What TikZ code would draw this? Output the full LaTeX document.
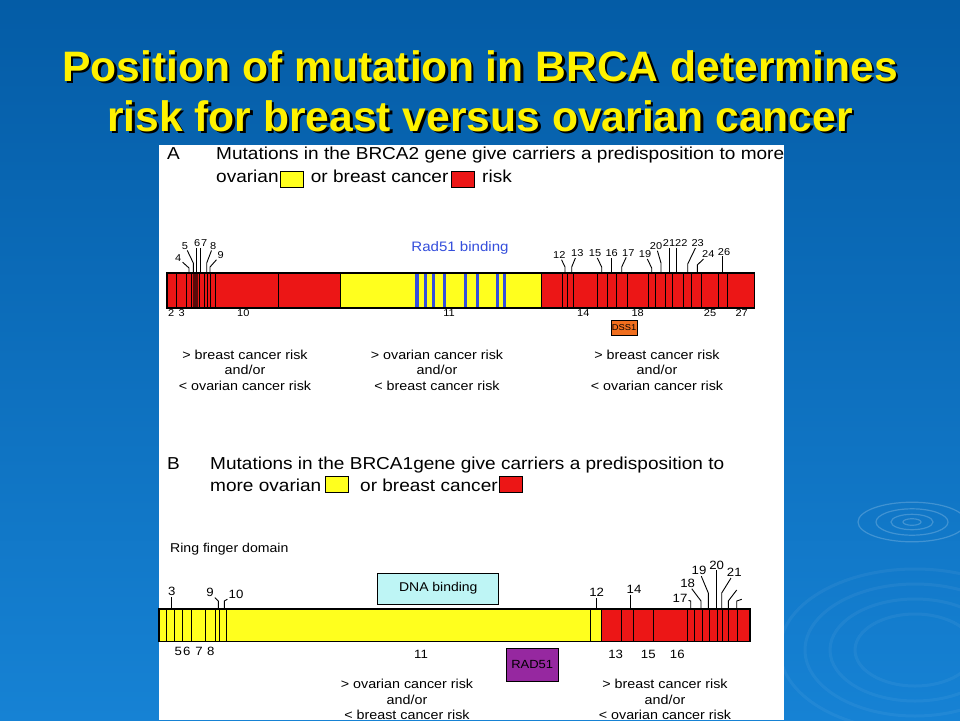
\documentclass[tikz,border=0pt]{standalone}
\usepackage{fontspec}
\setmainfont{Liberation Sans}
\newfontfamily\figfont[FakeStretch=1.1]{Liberation Sans}

\definecolor{slidetop}{RGB}{4,92,166}
\definecolor{slidebottom}{RGB}{22,130,212}
\definecolor{exred}{RGB}{236,22,22}
\definecolor{exyellow}{RGB}{255,255,30}
\definecolor{bindblue}{RGB}{52,78,220}
\definecolor{darkband}{RGB}{90,10,10}
\definecolor{dssorange}{RGB}{240,110,30}
\definecolor{dnacyan}{RGB}{190,245,245}
\definecolor{radpurple}{RGB}{150,40,160}

\tikzset{%
  titletext/.style={text=yellow, font=\bfseries\fontsize{42.6}{50}\selectfont, align=center},
  titleshadow/.style={titletext, text=black},
  head/.style={anchor=base west, font=\figfont\fontsize{17.3}{22}\selectfont, inner sep=0pt},
  keybox/.style={draw=black, line width=0.8pt, minimum width=23pt, minimum height=16pt, inner sep=0pt},
  exnum/.style={font=\figfont\fontsize{10}{11}\selectfont, inner sep=1pt},
  exnumB/.style={exnum, font=\figfont\fontsize{12}{13}\selectfont},
  risk/.style={align=center, font=\figfont\fontsize{13}{15.5}\selectfont},
  lead/.style={draw, line width=0.9pt},
  exline/.style={line width=0.9pt},
  barframe/.style={draw, line width=1.2pt},
  dombox/.style={draw, line width=0.8pt, inner sep=0pt},
}

% label with a bent leader down to the bar
\newcommand{\bentlab}[6]{%
  \node[#1] (#2) at (#4) {#3};
  \coordinate (#2f) at (#5);
  \draw[lead] (#2) -- ([yshift=#6pt]#2f) -- (#2f);
}
% label with a straight leader
\newcommand{\straightlab}[5]{%
  \node[#1] (#2) at (#4) {#3};
  \coordinate (#2f) at (#5);
  \draw[lead] (#2.south -| #2f) -- (#2f);
}

\begin{document}
\begin{tikzpicture}[x=1pt, y=-1pt]
\useasboundingbox (0,0) rectangle (960,720);

% slide background
\shade[top color=slidetop, bottom color=slidebottom] (0,0) rectangle (960,720);
\foreach \r in {6,14,24,36}
  \draw[white, opacity=.2, line width=1.2pt] (912,522) ellipse [x radius=1.5*\r, y radius=0.55*\r];
\foreach \r in {60,85,110,135}
  \draw[white, opacity=.05, line width=3pt] (915,650) ellipse [x radius=\r, y radius=0.6*\r];

% title
\node[titleshadow] (tshadow) at (482.5,93.5) {Position of mutation in BRCA determines\\risk for breast versus ovarian cancer};
\node[titletext] (title) at (480,91) {Position of mutation in BRCA determines\\risk for breast versus ovarian cancer};

% white figure panel
\fill[white] (159,145) rectangle (784,720);

% ---------- A: BRCA2 ----------
\node[head] (labA) at (167,159) {A};
\node[head] (headA) at (216,159) {Mutations in the BRCA2 gene give carriers a predisposition to more};
\node[head] (ovA) at (216,182) {ovarian};
\node[keybox, fill=exyellow] (ykeyA) at (291.5,179) {};
\node[head] (brA) at (310.7,182) {or breast cancer};
\node[keybox, fill=exred] (rkeyA) at (463,179) {};
\node[head] (riskA) at (482,182) {risk};

\fill[exred] (167,273) rectangle (340,308);
\fill[exyellow] (340,273) rectangle (541.7,308);
\fill[exred] (541.7,273) rectangle (754.3,308);
\fill[darkband] (193.3,273) rectangle (198.3,308);
\foreach \x in {416.7,425.5,433.3,444.3,465.5,477.5,497.5,504.3}
  \fill[bindblue] (\x-1.8,273.6) rectangle (\x+1.8,307.4);
\foreach \x in {176.7,186.7,191,199.3,204.3,207.7,210,215,278.3,340,541.7,
                562.7,567.3,573.3,597,607.3,616.7,627,648,655.5,665,672.5,683.5,691.7,701,718.3,727.5}
  \draw[exline] (\x,273) -- (\x,308);
\draw[barframe] (167,273) rectangle (754.3,308);

\node[text=bindblue, font=\figfont\fontsize{13.7}{16}\selectfont] (rad51A) at (460,248) {Rad51 binding};

\bentlab{exnum}{a4}{4}{178.3,258.3}{189,273}{5}
\bentlab{exnum}{a5}{5}{185,245.7}{193.3,273}{10}
\straightlab{exnum}{a6}{6}{197.3,243.3}{196.7,273}
\straightlab{exnum}{a7}{7}{204.3,243.3}{200.7,273}
\bentlab{exnum}{a8}{8}{213.3,245.7}{206.7,273}{10}
\bentlab{exnum}{a9}{9}{220.7,255}{210,273}{6}
\bentlab{exnum}{a12}{12}{559.3,255}{565,273}{6}
\bentlab{exnum}{a13}{13}{577.3,253.3}{571.7,273}{6}
\bentlab{exnum}{a15}{15}{595,253.3}{601.7,273}{6}
\straightlab{exnum}{a16}{16}{611.7,253.3}{611.7,273}
\bentlab{exnum}{a17}{17}{628.3,252.7}{621.7,273}{6}
\bentlab{exnum}{a19}{19}{645,254.3}{651.7,273}{5}
\bentlab{exnum}{a20}{20}{656,246}{661,273}{10}
\straightlab{exnum}{a21}{21}{669,243.3}{669,273}
\straightlab{exnum}{a22}{22}{681.3,243.3}{676.7,273}
\bentlab{exnum}{a23}{23}{697.7,243.3}{687.7,273}{9}
\bentlab{exnum}{a24}{24}{708.3,254.3}{697.3,273}{8}
\straightlab{exnum}{a26}{26}{724,251.7}{722.3,273}

\foreach \n/\x in {2/171.3,3/181.7,10/243.3,11/449,14/583.3,18/637.7,25/710,27/741.7}
  \node[exnum] (a\n) at (\x,313.5) {\n};

\node[dombox, fill=dssorange, minimum width=26pt, minimum height=15pt,
      font=\figfont\fontsize{8.5}{9}\selectfont] (dss1) at (624,327.5) {DSS1};

\node[risk] (riskA1) at (245,370) {> breast cancer risk\\and/or\\< ovarian cancer risk};
\node[risk] (riskA2) at (437,370) {> ovarian cancer risk\\and/or\\< breast cancer risk};
\node[risk] (riskA3) at (657,370) {> breast cancer risk\\and/or\\< ovarian cancer risk};

% ---------- B: BRCA1 ----------
\node[head] (labB) at (167,469) {B};
\node[head] (headB) at (210,469) {Mutations in the BRCA1gene give carriers a predisposition to};
\node[head] (ovB) at (210,491) {more ovarian};
\node[keybox, fill=exyellow] (ykeyB) at (337,484) {};
\node[head] (brB) at (360,491) {or breast cancer};
\node[keybox, fill=exred] (rkeyB) at (511,484) {};

\node[anchor=base west, inner sep=0pt, font=\figfont\fontsize{12.8}{15}\selectfont] (ring) at (170,552) {Ring finger domain};

\fill[exyellow] (159,609) rectangle (601.7,641.7);
\fill[exred] (601.7,609) rectangle (750,641.7);
\foreach \x in {166.7,174.3,182.7,191,205.7,215.7,219,226.7,590,601.7,
                621.7,633.3,653.3,687,694,702.5,709,717,722.7,728,737}
  \draw[exline] (\x,609) -- (\x,641.7);
\draw[barframe] (159,609) rectangle (750,641.7);

\node[dombox, fill=dnacyan, minimum width=121pt, minimum height=31pt,
      font=\figfont\fontsize{12.7}{15}\selectfont] (dnabind) at (438.3,588.7) {DNA binding};
\node[dombox, fill=radpurple, minimum width=52pt, minimum height=33pt,
      font=\figfont\fontsize{11.8}{14}\selectfont] (rad51B) at (532.2,664.7) {RAD51};

\straightlab{exnumB}{b3}{3}{171.7,591.7}{171.7,609}
\bentlab{exnumB}{b9}{9}{210,592.7}{218.3,609}{8}
\bentlab{exnumB}{b10}{10}{236,594.3}{224.3,609}{8}
\straightlab{exnumB}{b12}{12}{596.7,592.7}{596,609}
\straightlab{exnumB}{b14}{14}{634,589.3}{630,609}
\bentlab{exnumB}{b17}{17}{680,598.3}{690.7,609}{8}
\bentlab{exnumB}{b18}{18}{687.7,583.3}{701,609}{8}
\bentlab{exnumB}{b19}{19}{699,570.7}{708.3,609}{16}
\straightlab{exnumB}{b20}{20}{716.7,565}{716,609}
\bentlab{exnumB}{b21}{21}{734.3,572.7}{721.7,609}{16}
\coordinate (u1) at (736.7,590);
\coordinate (u1f) at (728.3,609);
\draw[lead] (u1) -- ([yshift=8pt]u1f) -- (u1f);
\coordinate (u2) at (741.7,599.3);
\coordinate (u2f) at (736.7,609);
\draw[lead] (u2) -- ([yshift=8pt]u2f) -- (u2f);

\foreach \n/\x in {5/178.3,6/186.7,7/199,8/210.7}
  \node[exnumB] (b\n) at (\x,651) {\n};
\foreach \n/\x in {11/421,13/615.7,15/648.3,16/677.3}
  \node[exnumB] (b\n) at (\x,654) {\n};

\node[risk] (riskB1) at (407,699.5) {> ovarian cancer risk\\and/or\\< breast cancer risk};
\node[risk] (riskB2) at (665,699.5) {> breast cancer risk\\and/or\\< ovarian cancer risk};
\end{tikzpicture}
\end{document}
